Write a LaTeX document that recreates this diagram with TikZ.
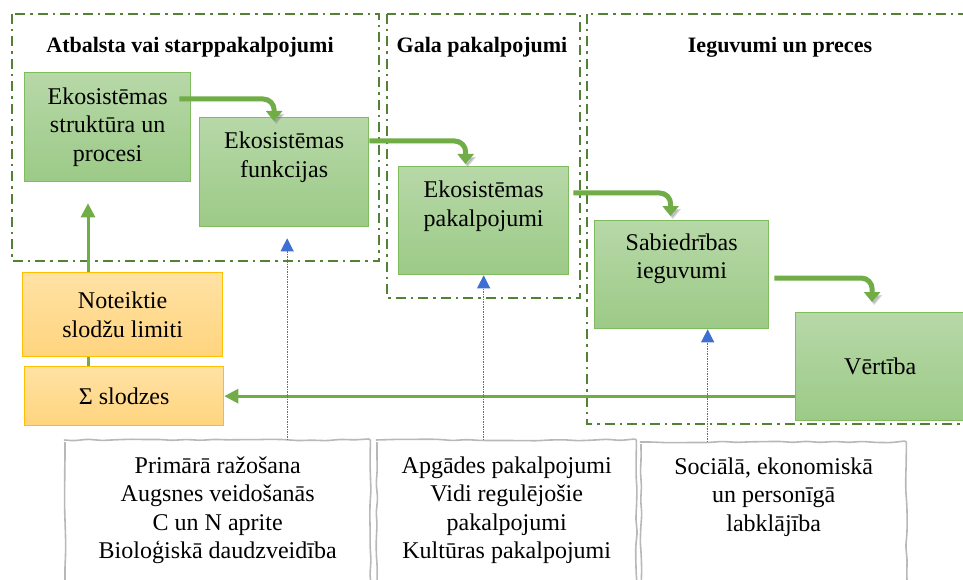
\documentclass[tikz,border=0pt]{standalone}
\usepackage{fontspec}
\setmainfont{Liberation Serif}
\usetikzlibrary{arrows.meta, calc, decorations.pathmorphing}

\definecolor{frameGreen}{HTML}{548235}
\definecolor{lineGreen}{HTML}{70AD47}
\definecolor{boxTop}{HTML}{B7D8A8}
\definecolor{boxBottom}{HTML}{9CCA87}
\definecolor{boxEdge}{HTML}{7FBC5E}
\definecolor{orangeTop}{HTML}{FFE2A4}
\definecolor{orangeBottom}{HTML}{FFD47E}
\definecolor{orangeEdge}{HTML}{FFC000}
\definecolor{infoBlue}{HTML}{3F6FD0}

\tikzset{
  groupframe/.style={draw=frameGreen, line width=2.9pt,
    dash pattern=on 10pt off 5pt on 2.5pt off 5pt},
  headtext/.style={font=\bfseries\fontsize{22pt}{26pt}\selectfont},
  boxtext/.style={align=center, inner sep=0pt,
    font=\fontsize{24pt}{28.5pt}\selectfont},
  greenbox/.style={boxtext, draw=boxEdge, line width=1.3pt,
    top color=boxTop, bottom color=boxBottom, anchor=north west},
  orangebox/.style={boxtext, draw=orangeEdge, line width=1.3pt,
    top color=orangeTop, bottom color=orangeBottom, anchor=north west},
  listbox/.style={inner sep=0pt, anchor=north west},
  sketchline/.style={draw=black!28, line width=1.6pt, rounded corners=2pt,
    decorate, decoration={random steps, segment length=14pt, amplitude=.8pt}},
  flowarrow/.style={draw=lineGreen, line width=5pt, rounded corners=11pt,
    -{Triangle[width=16pt,length=10pt]},
    preaction={draw=black!55, opacity=.3,
      transform canvas={shift={(2pt,-3pt)}}}},
  loadarrow/.style={draw=lineGreen, line width=3pt,
    -{Triangle[width=14pt,length=14pt]}},
  infoarrow/.style={draw=infoBlue, line width=1.1pt,
    dash pattern=on 1.1pt off 1.4pt,
    -{Triangle[width=13pt,length=13pt,fill=infoBlue,sep=0pt]}}
}

\begin{document}
\begin{tikzpicture}[x=1pt,y=-1pt]
\pgfmathsetseed{11}
\useasboundingbox (0,0) rectangle (963,580);
\clip (0,0) rectangle (963,580);
% Frames of the three groups
\draw[groupframe] (12,14) rectangle (379,261);
\draw[groupframe] (387,14) rectangle (580,298);
\draw[groupframe] (587,14) rectangle (975,424);
% Titles of the groups
\node[headtext] (head1) at (190,47) {Atbalsta vai starppakalpojumi};
\node[headtext] (head2) at (482,47) {Gala pakalpojumi};
\node[headtext] (head3) at (780,47) {Ieguvumi un preces};
% Green cascade boxes
\node[greenbox, minimum width=166pt, minimum height=109pt] (struct) at (24,72)
  {Ekosistēmas\\struktūra un\\procesi};
\node[greenbox, minimum width=169pt, minimum height=109pt] (funk) at (199,117) {};
\node[boxtext] (funk-t) at ($(funk.north)+(0,40)$) {Ekosistēmas\\funkcijas};
\node[greenbox, minimum width=170pt, minimum height=108pt] (pak) at (398,166) {};
\node[boxtext] (pak-t) at ($(pak.north)+(0,40)$) {Ekosistēmas\\pakalpojumi};
\node[greenbox, minimum width=174pt, minimum height=108pt] (ieg) at (594,220) {};
\node[boxtext] (ieg-t) at ($(ieg.north)+(0,39)$) {Sabiedrības\\ieguvumi};
\node[greenbox, minimum width=169pt, minimum height=108pt] (vert) at (795,312) {Vērtība};
% Cascade arrows between the boxes
\draw[flowarrow] ($(struct.north east)+(-12,27)$) -| ($(funk.north)+(-10,4)$);
\draw[flowarrow] ($(funk.north east)+(0,24)$) -| ($(pak.north)+(-18,-2)$);
\draw[flowarrow] ($(pak.north east)+(4,27)$) -| ($(ieg.north)+(-11,-4)$);
\draw[flowarrow] ($(ieg.north east)+(5,58)$) -| ($(vert.north)+(-8,-10)$);
% Loads
\node[orangebox, minimum width=199pt, minimum height=59pt] (sum) at (24,366) {Σ slodzes};
\coordinate (structin) at ($(struct.south west)+(64,21)$);
\draw[loadarrow] (sum.north -| structin) -- (structin);
\draw[loadarrow] (vert.west |- sum.east) -- (sum.east);
\node[orangebox, minimum width=200pt, minimum height=84pt] (limit) at (22,272)
  {Noteiktie\\slodžu limiti};
% Hand drawn lists under the groups
\node[listbox, minimum width=305pt, minimum height=150pt] (prim) at (65,440) {};
\draw[sketchline] (prim.north west) rectangle (prim.south east);
\node[boxtext] (prim-t) at ($(prim.north)+(0,70)$)
  {Primārā ražošana\\Augsnes veidošanās\\C un N aprite\\Bioloģiskā daudzveidība};
\node[listbox, minimum width=259pt, minimum height=150pt] (gala) at (377,440) {};
\draw[sketchline] (gala.north west) rectangle (gala.south east);
\node[boxtext] (gala-t) at ($(gala.north)+(0,70)$)
  {Apgādes pakalpojumi\\Vidi regulējošie\\pakalpojumi\\Kultūras pakalpojumi};
\node[listbox, minimum width=265pt, minimum height=148pt] (lab) at (641,442) {};
\draw[sketchline] (lab.north west) rectangle (lab.south east);
\node[boxtext] (lab-t) at ($(lab.north)+(0,55)$)
  {Sociālā, ekonomiskā\\un personīgā\\labklājība};
% Dotted links from the lists
\coordinate (funkin) at ($(funk.south)+(3,11)$);
\coordinate (iegin) at ($(ieg.south)+(26,0)$);
\draw[infoarrow] (prim.north -| funkin) -- (funkin);
\draw[infoarrow] (gala.north -| pak.south) -- (pak.south);
\draw[infoarrow] (lab.north -| iegin) -- (iegin);
\end{tikzpicture}
\end{document}
